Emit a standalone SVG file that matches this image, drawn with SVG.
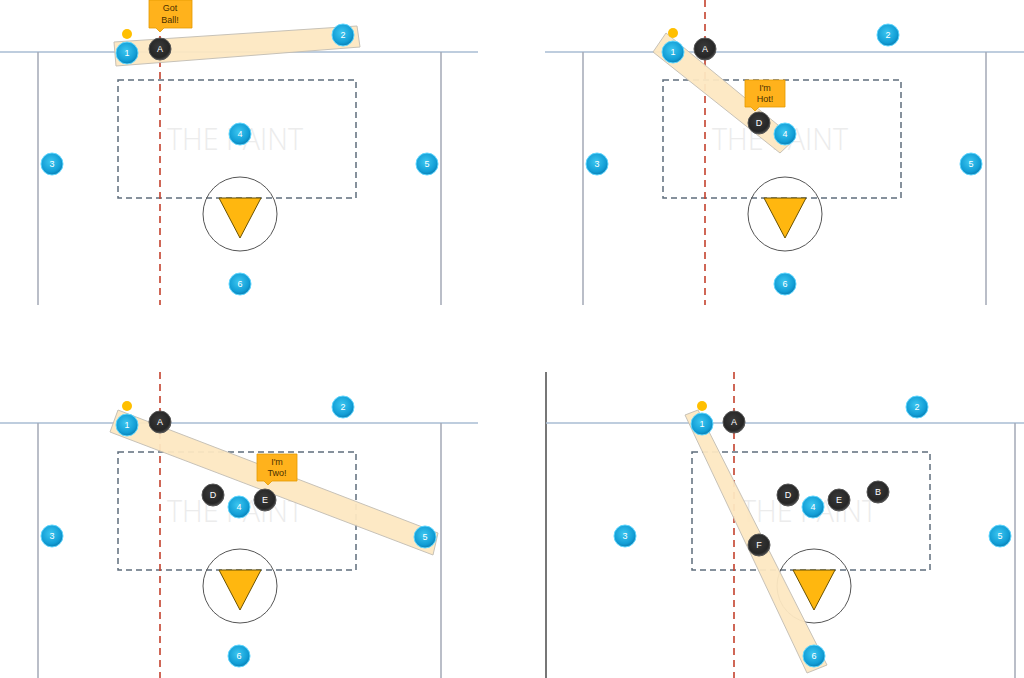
<svg xmlns="http://www.w3.org/2000/svg" width="1024" height="678" viewBox="0 0 1024 678">
<defs>
<radialGradient id="gBlue" cx="0.45" cy="0.4" r="0.6">
<stop offset="0" stop-color="#3cc6f0"/><stop offset="0.75" stop-color="#129ed6"/><stop offset="1" stop-color="#0a7fb4"/>
</radialGradient>
<radialGradient id="gDark" cx="0.45" cy="0.4" r="0.6">
<stop offset="0" stop-color="#3a3a3a"/><stop offset="0.8" stop-color="#262626"/><stop offset="1" stop-color="#4a4a4a"/>
</radialGradient>
<style>
.base{stroke:#a9bdd3;stroke-width:1.5;fill:none}
.side{stroke:#a3a9b6;stroke-width:1.5;fill:none}
.paint{stroke:#5f6d7c;stroke-width:1.5;stroke-dasharray:6 4;fill:none}
.red{stroke:#c4412d;stroke-width:1.6;stroke-dasharray:7 5;fill:none}
.ring{stroke:#555;stroke-width:1;fill:none}
.tri{fill:#ffb70f;stroke:#6b5200;stroke-width:1}
.wm{font-family:"Open Sans","Liberation Sans",sans-serif;font-size:32px;fill:#ececec;font-weight:300}
.band{fill:#fde8c2;stroke:#c5bfb4;stroke-width:1;opacity:0.95}
.pb{fill:url(#gBlue);stroke:#5fd6ff;stroke-width:1}
.pd{fill:url(#gDark);stroke:#555;stroke-width:1}
.lbl{font-family:"Liberation Sans",sans-serif;font-size:9px;fill:#fff;text-anchor:middle}
.ball{fill:#ffbf00}
.call{fill:#ffb21c;stroke:#e39b00;stroke-width:0.8}
.ct{font-family:"Liberation Sans",sans-serif;font-size:9px;fill:#4a3000;text-anchor:middle}
</style>
</defs>
<rect width="1024" height="678" fill="#ffffff"/>

<!-- Panel 1 court -->
<g id="court1">
<line class="base" x1="0" y1="52" x2="478" y2="52"/>
<line class="side" x1="38" y1="52" x2="38" y2="305"/>
<line class="side" x1="441" y1="52" x2="441" y2="305"/>
<rect class="paint" x="118" y="80" width="238" height="118"/>
<text class="wm" x="167" y="150" textLength="136" lengthAdjust="spacingAndGlyphs">THE PAINT</text>
<circle class="ring" cx="240" cy="214" r="37"/>
<polygon class="tri" points="219,198 261,198 240,238"/>
<line class="red" x1="160" y1="0" x2="160" y2="305"/>
</g>
<!-- Panel 2 court -->
<g id="court2">
<line class="base" x1="545" y1="52" x2="1024" y2="52"/>
<line class="side" x1="583" y1="52" x2="583" y2="305"/>
<line class="side" x1="986" y1="52" x2="986" y2="305"/>
<rect class="paint" x="663" y="80" width="238" height="118"/>
<text class="wm" x="712" y="150" textLength="136" lengthAdjust="spacingAndGlyphs">THE PAINT</text>
<circle class="ring" cx="785" cy="214" r="37"/>
<polygon class="tri" points="764,198 806,198 785,238"/>
<line class="red" x1="705" y1="0" x2="705" y2="305"/>
</g>
<!-- Panel 3 court -->
<g id="court3">
<line class="base" x1="0" y1="423" x2="478" y2="423"/>
<line class="side" x1="38" y1="423" x2="38" y2="678"/>
<line class="side" x1="441" y1="423" x2="441" y2="678"/>
<rect class="paint" x="118" y="452" width="238" height="118"/>
<text class="wm" x="167" y="522" textLength="136" lengthAdjust="spacingAndGlyphs">THE PAINT</text>
<circle class="ring" cx="240" cy="586" r="37"/>
<polygon class="tri" points="219,570 261,570 240,610"/>
<line class="red" x1="160" y1="372" x2="160" y2="678"/>
</g>
<!-- Panel 4 court -->
<g id="court4">
<line x1="546" y1="372" x2="546" y2="678" stroke="#555" stroke-width="1.6"/>
<line class="base" x1="546" y1="423" x2="1024" y2="423"/>
<line class="side" x1="1015" y1="423" x2="1015" y2="678"/>
<rect class="paint" x="692" y="452" width="238" height="118"/>
<text class="wm" x="741" y="522" textLength="136" lengthAdjust="spacingAndGlyphs">THE PAINT</text>
<circle class="ring" cx="814" cy="586" r="37"/>
<polygon class="tri" points="793,570 835,570 814,610"/>
<line class="red" x1="734" y1="372" x2="734" y2="678"/>
</g>

<!-- Passing lanes -->
<g id="connectors">
<polygon class="band" points="114,42 357,26 360,47 116,66"/>
<polygon class="band" points="666,33 795,139 780,153 653,52"/>
<polygon class="band" points="118,410 438,533 433,555 110,432"/>
<polygon class="band" points="698,410 827,665 807,673 685,415"/>
</g>

<!-- Panel 1 nodes -->
<g id="p1-ball"><circle class="ball" cx="127" cy="34" r="5"/></g>
<g id="p1-o1"><circle class="pb" cx="127" cy="53" r="11"/><text class="lbl" x="127" y="56">1</text></g>
<g id="p1-o2"><circle class="pb" cx="343" cy="35" r="11"/><text class="lbl" x="343" y="38">2</text></g>
<g id="p1-o3"><circle class="pb" cx="52" cy="164" r="11"/><text class="lbl" x="52" y="167">3</text></g>
<g id="p1-o4"><circle class="pb" cx="240" cy="134" r="11"/><text class="lbl" x="240" y="137">4</text></g>
<g id="p1-o5"><circle class="pb" cx="427" cy="164" r="11"/><text class="lbl" x="427" y="167">5</text></g>
<g id="p1-o6"><circle class="pb" cx="240" cy="284" r="11"/><text class="lbl" x="240" y="287">6</text></g>
<g id="p1-A"><circle class="pd" cx="160" cy="49" r="11"/><text class="lbl" x="160" y="52">A</text></g>
<g id="p1-call"><path class="call" d="M149,0 H192 V28 H164 L160,32 L156,28 H149 Z"/><text class="ct" x="170" y="11">Got</text><text class="ct" x="170" y="23">Ball!</text></g>

<!-- Panel 2 nodes -->
<g id="p2-ball"><circle class="ball" cx="673" cy="33" r="5"/></g>
<g id="p2-o1"><circle class="pb" cx="673" cy="52" r="11"/><text class="lbl" x="673" y="55">1</text></g>
<g id="p2-o2"><circle class="pb" cx="888" cy="35" r="11"/><text class="lbl" x="888" y="38">2</text></g>
<g id="p2-o3"><circle class="pb" cx="597" cy="164" r="11"/><text class="lbl" x="597" y="167">3</text></g>
<g id="p2-o4"><circle class="pb" cx="785" cy="134" r="11"/><text class="lbl" x="785" y="137">4</text></g>
<g id="p2-o5"><circle class="pb" cx="971" cy="164" r="11"/><text class="lbl" x="971" y="167">5</text></g>
<g id="p2-o6"><circle class="pb" cx="785" cy="284" r="11"/><text class="lbl" x="785" y="287">6</text></g>
<g id="p2-A"><circle class="pd" cx="705" cy="49" r="11"/><text class="lbl" x="705" y="52">A</text></g>
<g id="p2-D"><circle class="pd" cx="759" cy="123" r="11"/><text class="lbl" x="759" y="126">D</text></g>
<g id="p2-call"><path class="call" d="M745,80 H785 V107 H759 L755,111 L751,107 H745 Z"/><text class="ct" x="765" y="91">I'm</text><text class="ct" x="765" y="102">Hot!</text></g>

<!-- Panel 3 nodes -->
<g id="p3-ball"><circle class="ball" cx="127" cy="406" r="5"/></g>
<g id="p3-o1"><circle class="pb" cx="127" cy="425" r="11"/><text class="lbl" x="127" y="428">1</text></g>
<g id="p3-o2"><circle class="pb" cx="343" cy="407" r="11"/><text class="lbl" x="343" y="410">2</text></g>
<g id="p3-o3"><circle class="pb" cx="52" cy="536" r="11"/><text class="lbl" x="52" y="539">3</text></g>
<g id="p3-o4"><circle class="pb" cx="239" cy="507" r="11"/><text class="lbl" x="239" y="510">4</text></g>
<g id="p3-o5"><circle class="pb" cx="425" cy="537" r="11"/><text class="lbl" x="425" y="540">5</text></g>
<g id="p3-o6"><circle class="pb" cx="239" cy="656" r="11"/><text class="lbl" x="239" y="659">6</text></g>
<g id="p3-A"><circle class="pd" cx="160" cy="422" r="11"/><text class="lbl" x="160" y="425">A</text></g>
<g id="p3-D"><circle class="pd" cx="213" cy="495" r="11"/><text class="lbl" x="213" y="498">D</text></g>
<g id="p3-E"><circle class="pd" cx="265" cy="500" r="11"/><text class="lbl" x="265" y="503">E</text></g>
<g id="p3-call"><path class="call" d="M257,454 H297 V481 H272 L268,485 L264,481 H257 Z"/><text class="ct" x="277" y="465">I'm</text><text class="ct" x="277" y="476">Two!</text></g>

<!-- Panel 4 nodes -->
<g id="p4-ball"><circle class="ball" cx="702" cy="406" r="5"/></g>
<g id="p4-o1"><circle class="pb" cx="702" cy="424" r="11"/><text class="lbl" x="702" y="427">1</text></g>
<g id="p4-o2"><circle class="pb" cx="917" cy="407" r="11"/><text class="lbl" x="917" y="410">2</text></g>
<g id="p4-o3"><circle class="pb" cx="625" cy="536" r="11"/><text class="lbl" x="625" y="539">3</text></g>
<g id="p4-o4"><circle class="pb" cx="813" cy="507" r="11"/><text class="lbl" x="813" y="510">4</text></g>
<g id="p4-o5"><circle class="pb" cx="1000" cy="536" r="11"/><text class="lbl" x="1000" y="539">5</text></g>
<g id="p4-o6"><circle class="pb" cx="814" cy="656" r="11"/><text class="lbl" x="814" y="659">6</text></g>
<g id="p4-A"><circle class="pd" cx="734" cy="422" r="11"/><text class="lbl" x="734" y="425">A</text></g>
<g id="p4-D"><circle class="pd" cx="788" cy="495" r="11"/><text class="lbl" x="788" y="498">D</text></g>
<g id="p4-E"><circle class="pd" cx="839" cy="500" r="11"/><text class="lbl" x="839" y="503">E</text></g>
<g id="p4-B"><circle class="pd" cx="878" cy="492" r="11"/><text class="lbl" x="878" y="495">B</text></g>
<g id="p4-F"><circle class="pd" cx="759" cy="545" r="11"/><text class="lbl" x="759" y="548">F</text></g>
</svg>
